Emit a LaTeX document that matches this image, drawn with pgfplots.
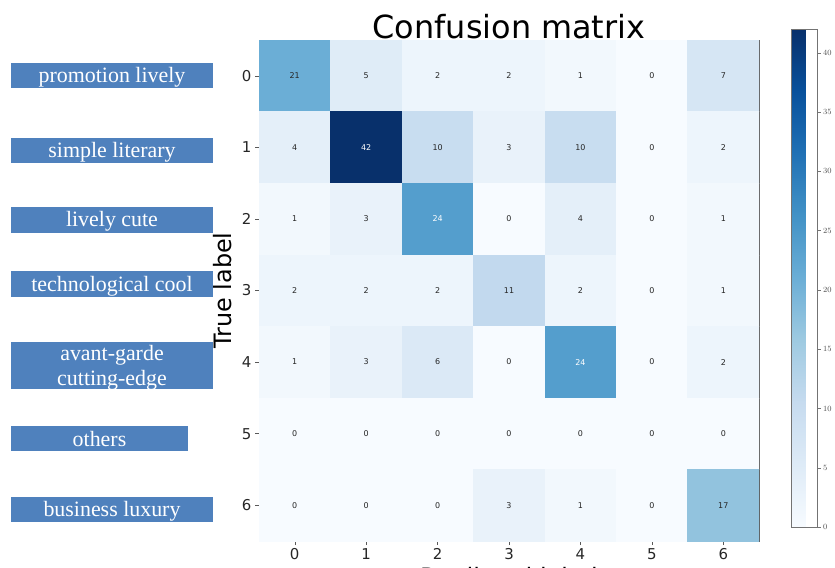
\documentclass[border=0pt]{standalone}
\usepackage{fontspec}
\setmainfont{DejaVu Sans}
\newfontfamily\tnr{Liberation Serif}
\usepackage{pgfplots}
\usepackage{pgfplotstable}
\pgfplotsset{compat=1.18}

\definecolor{boxblue}{RGB}{79,129,189}

% rows: true label (y), cols: predicted label (x)
\pgfplotstableread{
x y c
0 0 21
1 0 5
2 0 2
3 0 2
4 0 1
5 0 0
6 0 7
0 1 4
1 1 42
2 1 10
3 1 3
4 1 10
5 1 0
6 1 2
0 2 1
1 2 3
2 2 24
3 2 0
4 2 4
5 2 0
6 2 1
0 3 2
1 3 2
2 3 2
3 3 11
4 3 2
5 3 0
6 3 1
0 4 1
1 4 3
2 4 6
3 4 0
4 4 24
5 4 0
6 4 2
0 5 0
1 5 0
2 5 0
3 5 0
4 5 0
5 5 0
6 5 0
0 6 0
1 6 0
2 6 0
3 6 3
4 6 1
5 6 0
6 6 17
}\cm

\begin{document}
\begin{tikzpicture}[x=1bp,y=1bp]
\begin{axis}[
    at={(259bp,-541bp)}, anchor=south west,
    scale only axis,
    width=500bp, height=501bp,
    xmin=-0.5, xmax=6.5, ymin=-0.5, ymax=6.5,
    y dir=reverse,
    xtick={0,...,6}, ytick={0,...,6},
    tick align=outside, tick pos=left,
    major tick length=4bp,
    /pgf/number format/assume math mode=true,
    ticklabel style={font=\fontsize{15}{15}\selectfont, text=black!85},
    axis line style={black!65},
    every tick/.style={black!65},
    title={Confusion matrix},
    title style={font=\fontsize{32}{32}\selectfont, at={(0.5,1)}, anchor=base, yshift=-4bp},
    xlabel={Predicted label},
    ylabel={True label},
    label style={font=\fontsize{24}{24}\selectfont},
    xlabel style={yshift=-1bp},
    ylabel style={yshift=3bp},
    colormap={mplblues}{rgb255=(247,251,255) rgb255=(222,235,247) rgb255=(198,219,239)
        rgb255=(158,202,225) rgb255=(107,174,214) rgb255=(66,146,198)
        rgb255=(33,113,181) rgb255=(8,81,156) rgb255=(8,48,107)},
    point meta min=0, point meta max=42,
    colorbar,
    colorbar style={
        at={(parent axis.north east)}, anchor=north west,
        xshift=24bp, yshift=11bp,
        scale only axis, width=26bp, height=498bp,
        ytick={0,5,...,40},
        ytick pos=right,
        tick align=outside,
        major tick length=3bp,
        yticklabel style={font=\fontsize{8}{8}\selectfont, text=black!70, xshift=-1bp},
        axis line style={black!55},
        every tick/.style={black!55},
    },
]
\addplot[matrix plot*, mesh/cols=7, point meta=explicit] table[x=x, y=y, meta=c] {\cm};

\addplot[only marks, mark=none, point meta=explicit symbolic,
    restrict expr to domain={\thisrow{c}}{0:21},
    nodes near coords, nodes near coords align=center,
    nodes near coords style={anchor=center, font=\fontsize{8}{8}\selectfont, text=black!85}]
    table[x=x, y=y, meta=c] {\cm};

\addplot[only marks, mark=none, point meta=explicit symbolic,
    restrict expr to domain={\thisrow{c}}{22:100},
    nodes near coords, nodes near coords align=center,
    nodes near coords style={anchor=center, font=\fontsize{8}{8}\selectfont, text=white}]
    table[x=x, y=y, meta=c] {\cm};
\end{axis}

% category boxes on the left
\begin{scope}[every node/.style={anchor=base, text=white, inner sep=0pt,
        font=\tnr\fontsize{22}{25}\selectfont}]
\fill[boxblue] (11,-62.7) rectangle (213,-88.3);
\node at (112,-83) {promotion lively};
\fill[boxblue] (11,-138.3) rectangle (213,-163.3);
\node at (112,-158) {simple literary};
\fill[boxblue] (11,-207.3) rectangle (213,-232.7);
\node at (112,-227) {lively cute};
\fill[boxblue] (11,-271) rectangle (213,-296.7);
\node at (112,-291) {technological cool};
\fill[boxblue] (11,-342.3) rectangle (213,-389);
\node at (112,-360) {avant-garde};
\node at (112,-385) {cutting-edge};
\fill[boxblue] (11,-425.7) rectangle (188,-451);
\node at (99.5,-446) {others};
\fill[boxblue] (11,-496.7) rectangle (213,-521.7);
\node at (112,-516) {business luxury};
\end{scope}

\pgfresetboundingbox
\useasboundingbox (0,0) rectangle (835,-568);
\end{tikzpicture}
\end{document}
